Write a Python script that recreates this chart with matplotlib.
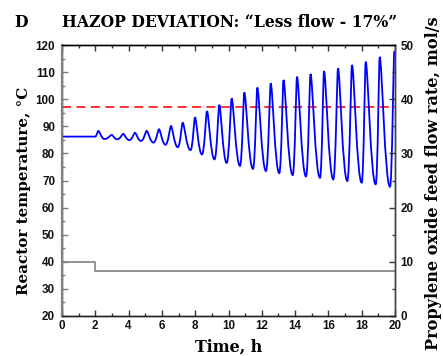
import numpy as np
import matplotlib
matplotlib.use("Agg")
import matplotlib.pyplot as plt
from matplotlib.path import Path
from matplotlib.patches import PathPatch
from matplotlib.ticker import MultipleLocator

# ---- data ----
steady_time = [0.0, 2.0]
steady_temp = [86.2, 86.2]

peak_time = [2.18, 2.985, 3.68, 4.385, 5.087, 5.826, 6.547, 7.25, 7.988, 8.709,
             9.447, 10.192, 10.949, 11.730, 12.535, 13.303, 14.114, 14.925,
             15.736, 16.577, 17.417, 18.240, 19.081, 19.96]
peak_temp = [88.3, 86.8, 87.2, 87.6, 88.3, 88.9, 90.1, 91.3, 93.3, 95.6,
             97.9, 100.3, 102.5, 104.3, 105.9, 107.1, 108.3, 109.3,
             110.4, 111.4, 112.6, 113.8, 115.6, 117.8]
trough_time = [2.553, 3.321, 4.042, 4.745, 5.495, 6.216, 6.955, 7.718, 8.408,
               9.159, 9.892, 10.691, 11.471, 12.252, 13.051, 13.856, 14.655,
               15.495, 16.294, 17.135, 18.000, 18.841, 19.700]
trough_temp = [85.3, 85.2, 84.9, 84.6, 84.0, 83.2, 82.3, 81.2, 79.6,
               77.8, 76.5, 75.4, 74.3, 73.5, 72.7, 72.0, 71.5,
               71.0, 70.4, 69.8, 69.2, 68.6, 67.7]

flow_time = [0.0, 2.0, 20.0]
flow_rate = [10.0, 8.3, 8.3]

limit_temp = 97.0

x_ticks = [0, 2, 4, 6, 8, 10, 12, 14, 16, 18, 20]
left_ticks = [20, 30, 40, 50, 60, 70, 80, 90, 100, 110, 120]
right_ticks = [0, 10, 20, 30, 40, 50]

title = "HAZOP DEVIATION: \u201cLess flow - 17%\u201d"
panel = "D"
xlabel = "Time, h"
ylabel_left = "Reactor temperature, \u00b0C"
ylabel_right = "Propylene oxide feed flow rate, mol/s"

# ---- figure ----
W, H = 443, 356
fig = plt.figure(figsize=(W/100, H/100), dpi=100)
ax = fig.add_axes([62/W, 40/H, 333/W, 271/H])
ax2 = ax.twinx()

serif = "DejaVu Serif"
sans = "Liberation Sans"

# extrema sequence (kind: 's' start, 'p' peak, 't' trough)
ext_t = [steady_time[-1]]
ext_v = [steady_temp[-1]]
ext_k = ["s"]
for i in range(len(peak_time)):
    ext_t.append(peak_time[i]); ext_v.append(peak_temp[i]); ext_k.append("p")
    if i < len(trough_time):
        ext_t.append(trough_time[i]); ext_v.append(trough_temp[i]); ext_k.append("t")

handle = {"s": 0.4, "p": 0.22, "t": 0.5}
verts = [(steady_time[0], steady_temp[0]), (steady_time[1], steady_temp[1])]
codes = [Path.MOVETO, Path.LINETO]
for i in range(len(ext_t) - 1):
    t0, v0, t1, v1 = ext_t[i], ext_v[i], ext_t[i+1], ext_v[i+1]
    dt = t1 - t0
    verts += [(t0 + handle[ext_k[i]]*dt, v0), (t1 - handle[ext_k[i+1]]*dt, v1), (t1, v1)]
    codes += [Path.CURVE4]*3
ax.add_patch(PathPatch(Path(verts, codes), facecolor="none", edgecolor="#0000ff",
                       lw=1.3, zorder=3))

ax.axhline(limit_temp, color="#ff2020", lw=1.3, ls=(0, (5, 3)), zorder=2)

ax2.plot(flow_time, flow_rate, drawstyle="steps-post", color="#808080", lw=1.2)

ax.set_xlim(0, 20)
ax.set_ylim(20, 120)
ax2.set_ylim(0, 50)

ax.set_xticks(x_ticks)
ax.set_yticks(left_ticks)
ax2.set_yticks(right_ticks)
ax.xaxis.set_minor_locator(MultipleLocator(1))
ax.yaxis.set_minor_locator(MultipleLocator(5))
ax2.yaxis.set_minor_locator(MultipleLocator(5))

for a in (ax, ax2):
    a.tick_params(which="both", direction="in", width=1.0, color="#333333")
    a.tick_params(which="major", length=4)
    a.tick_params(which="minor", length=2.5)
    for s in a.spines.values():
        s.set_color("#222222")
        s.set_linewidth(1.0)
ax2.spines["left"].set_color("#808080")
ax2.spines["left"].set_linewidth(1.6)
ax2.spines["top"].set_color("#000000")
ax2.spines["right"].set_color("#444444")
ax.tick_params(axis="y", which="both", color="#808080")
ax.tick_params(axis="x", which="both", top=True, pad=3)
ax.tick_params(axis="y", which="both", right=False, pad=5)
ax2.tick_params(axis="y", which="both", pad=4)

for lab in ax.get_xticklabels() + ax.get_yticklabels() + ax2.get_yticklabels():
    lab.set_fontfamily(sans)
    lab.set_fontweight("bold")
    lab.set_fontsize(8.4)
    lab.set_color("#111111")

fig.canvas.draw()
renderer = fig.canvas.get_renderer()


def fit(txt, target_px, horizontal=True):
    for _ in range(3):
        bb = txt.get_window_extent(renderer)
        cur = bb.width if horizontal else bb.height
        txt.set_fontsize(txt.get_fontsize() * target_px / cur)


t_title = fig.text(62/W, 1 - 26.7/H, title, fontfamily=serif, fontweight="bold",
                   fontsize=10, va="baseline", ha="left")
fit(t_title, 333)
t_panel = fig.text(14/W, 1 - 26.7/H, panel, fontfamily=serif, fontweight="bold",
                   fontsize=t_title.get_fontsize(), va="baseline", ha="left")

t_xl = fig.text(228.5/W, 1 - 347/H, xlabel, fontfamily=serif, fontweight="bold",
                fontsize=11, va="center", ha="center")
fit(t_xl, 67)

t_yl = fig.text(24/W, 1 - 191/H, ylabel_left, fontfamily=serif, fontweight="bold",
                fontsize=11, va="center", ha="center", rotation=90)
fit(t_yl, 208, horizontal=False)

t_yr = fig.text(433/W, 1 - 183.5/H, ylabel_right, fontfamily=serif, fontweight="bold",
                fontsize=11, va="center", ha="center", rotation=90)
fit(t_yr, 333, horizontal=False)

fig.savefig("out.png", dpi=100)
